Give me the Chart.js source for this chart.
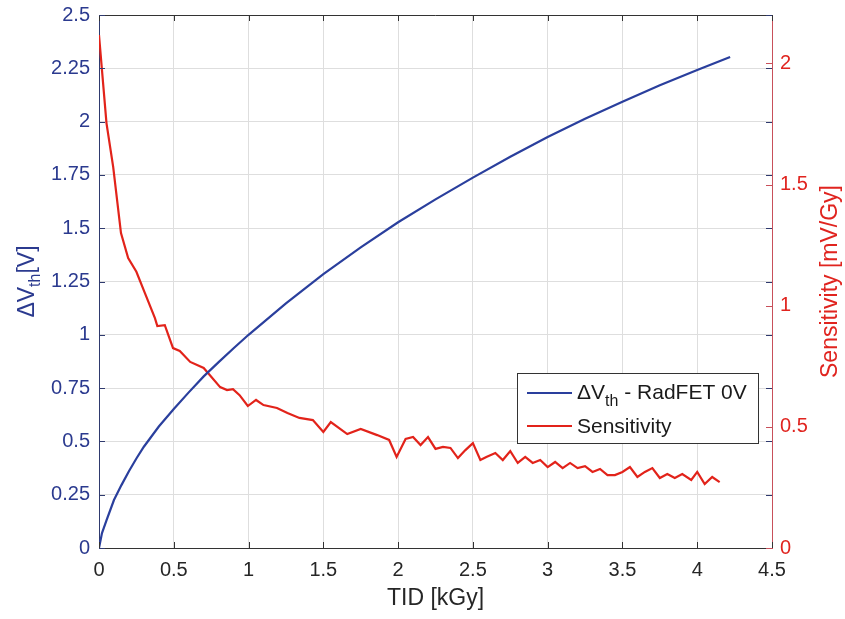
<!DOCTYPE html>
<html>
<head>
<meta charset="utf-8">
<script src="https://cdn.jsdelivr.net/npm/chart.js@4.4.1/dist/chart.umd.min.js"></script>
<style>
  html, body { margin: 0; padding: 0; background: #fff; }
  canvas { display: block; }
</style>
</head>
<body>
<canvas id="chart" width="845" height="619"></canvas>
<script>
// dose points for the threshold voltage shift [kGy]
const tidVth = [0, 0.02, 0.05, 0.1, 0.15, 0.2, 0.25, 0.3, 0.4, 0.5, 0.6, 0.7, 0.8, 0.9, 1.0,
    1.25, 1.5, 1.75, 2.0, 2.25, 2.5, 2.75, 3.0, 3.25, 3.5, 3.75, 4.0, 4.22];
// delta Vth [V]
const deltaVth = [0, 0.07, 0.13, 0.225, 0.295, 0.36, 0.42, 0.475, 0.57, 0.652, 0.73, 0.805, 0.872, 0.937, 1.0,
    1.147, 1.285, 1.41, 1.528, 1.635, 1.737, 1.835, 1.928, 2.013, 2.093, 2.17, 2.242, 2.303];

// dose points for the sensitivity [kGy]
const tidSens = [0, 0.05, 0.095, 0.147, 0.195, 0.25, 0.307, 0.374, 0.39, 0.44, 0.495, 0.54, 0.61, 0.70,
    0.81, 0.856, 0.896, 0.94, 0.995, 1.05, 1.10, 1.19, 1.26, 1.34, 1.43, 1.50, 1.55, 1.66, 1.75, 1.86,
    1.94, 1.99, 2.05, 2.10, 2.15, 2.20, 2.25, 2.30, 2.35, 2.40, 2.45, 2.50, 2.55, 2.59, 2.65, 2.70,
    2.75, 2.80, 2.85, 2.90, 2.95, 3.00, 3.05, 3.10, 3.15, 3.20, 3.25, 3.30, 3.35, 3.40, 3.45, 3.50,
    3.55, 3.60, 3.65, 3.70, 3.75, 3.80, 3.85, 3.90, 3.96, 4.00, 4.05, 4.10, 4.15];
// sensitivity [mV/Gy]
const sensitivity = [2.117, 1.754, 1.572, 1.30, 1.197, 1.14, 1.052, 0.949, 0.916, 0.92, 0.825, 0.813, 0.768, 0.743,
    0.664, 0.652, 0.656, 0.631, 0.586, 0.611, 0.59, 0.578, 0.557, 0.537, 0.528, 0.479, 0.52, 0.47, 0.491, 0.466,
    0.446, 0.376, 0.45, 0.458, 0.425, 0.458, 0.409, 0.417, 0.413, 0.371, 0.404, 0.433, 0.363, 0.376, 0.392, 0.363,
    0.40, 0.351, 0.376, 0.351, 0.363, 0.334, 0.355, 0.33, 0.351, 0.33, 0.338, 0.314, 0.326, 0.301, 0.301, 0.314,
    0.334, 0.293, 0.314, 0.33, 0.289, 0.305, 0.289, 0.305, 0.281, 0.314, 0.264, 0.293, 0.272];

// tick values
const xTickValues = [0, 0.5, 1, 1.5, 2, 2.5, 3, 3.5, 4, 4.5];
const leftTickValues = [0, 0.25, 0.5, 0.75, 1, 1.25, 1.5, 1.75, 2, 2.25, 2.5];
const rightTickValues = [0, 0.5, 1, 1.5, 2];

const FONT = "'Liberation Sans', Arial, Helvetica, sans-serif";
const BlueLine = '#2a3f9d';
const BlueText = '#2b3a8f';
const RedLine = '#e2231a';
const RedText = '#e0241f';
const AxisColor = '#333333';
const GridColor = '#dedede';
const TickLen = 6;

function toPoints(xs, ys) {
    return xs.map((x, i) => ({ x: x, y: ys[i] }));
}

function fmt(v) {
    return String(+v.toFixed(2));
}

function setTicks(values) {
    return function(scale) {
        scale.ticks = values.map(v => ({ value: v }));
    };
}

// fixed axis sizes so the plot box lands where the original has it
function fixWidth(w) {
    return function(scale) {
        scale.width = w;
        scale.paddingTop = 0;
        scale.paddingBottom = 0;
    };
}

// draws one text part and returns its width
function part(ctx, text, x, y, size) {
    ctx.font = size + 'px ' + FONT;
    ctx.fillText(text, x, y);
    return ctx.measureText(text).width;
}

function partWidth(ctx, text, size) {
    ctx.font = size + 'px ' + FONT;
    return ctx.measureText(text).width;
}

function strokeLine(ctx, x1, y1, x2, y2) {
    ctx.beginPath();
    ctx.moveTo(x1, y1);
    ctx.lineTo(x2, y2);
    ctx.stroke();
}

// box edge, inward ticks, axis titles and legend (MATLAB look)
const decorations = {
    id: 'decorations',
    afterDraw(chart) {
        const ctx = chart.ctx;
        const area = chart.chartArea;
        const sx = chart.scales.x, sy = chart.scales.y, sy2 = chart.scales.y2;
        ctx.save();
        ctx.lineWidth = 1;

        // top edge of the box
        ctx.strokeStyle = AxisColor;
        strokeLine(ctx, area.left, Math.round(area.top) + 0.5, area.right, Math.round(area.top) + 0.5);

        // x ticks, bottom and top
        sx.ticks.forEach(t => {
            const px = Math.round(sx.getPixelForValue(t.value)) + 0.5;
            strokeLine(ctx, px, area.bottom, px, area.bottom - TickLen);
            strokeLine(ctx, px, area.top, px, area.top + TickLen);
        });
        // left ticks, on both sides
        ctx.strokeStyle = '#2f3a6e';
        sy.ticks.forEach(t => {
            const py = Math.round(sy.getPixelForValue(t.value)) + 0.5;
            strokeLine(ctx, area.left, py, area.left + TickLen, py);
            strokeLine(ctx, area.right, py, area.right - TickLen, py);
        });
        // right ticks
        ctx.strokeStyle = '#c8505a';
        sy2.ticks.forEach(t => {
            const py = Math.round(sy2.getPixelForValue(t.value)) + 0.5;
            strokeLine(ctx, area.right, py, area.right - TickLen, py);
        });

        // x title
        ctx.fillStyle = '#262626';
        ctx.textAlign = 'center';
        ctx.textBaseline = 'alphabetic';
        ctx.font = '23px ' + FONT;
        ctx.fillText('TID [kGy]', (area.left + area.right) / 2, 605);

        // right title
        ctx.save();
        ctx.translate(837, (area.top + area.bottom) / 2);
        ctx.rotate(-Math.PI / 2);
        ctx.fillStyle = RedText;
        ctx.fillText('Sensitivity [mV/Gy]', 0, 0);
        ctx.restore();

        // left title with subscript
        ctx.save();
        ctx.translate(34, (area.top + area.bottom) / 2);
        ctx.rotate(-Math.PI / 2);
        ctx.fillStyle = BlueText;
        ctx.textAlign = 'left';
        const total = partWidth(ctx, '\u0394V', 23) + partWidth(ctx, 'th', 16) + partWidth(ctx, '[V]', 23);
        let cx = -total / 2;
        cx += part(ctx, '\u0394V', cx, 0, 23);
        cx += part(ctx, 'th', cx, 6, 16);
        part(ctx, '[V]', cx, 0, 23);
        ctx.restore();

        // legend
        const lx = 517.5, ly = 373.5, lw = 241, lh = 70;
        ctx.fillStyle = '#ffffff';
        ctx.fillRect(lx, ly, lw, lh);
        ctx.strokeStyle = AxisColor;
        ctx.strokeRect(lx, ly, lw, lh);
        ctx.lineWidth = 2;
        ctx.strokeStyle = BlueLine;
        strokeLine(ctx, 527, 393, 572, 393);
        ctx.strokeStyle = RedLine;
        strokeLine(ctx, 527, 426, 572, 426);
        ctx.fillStyle = '#1a1a1a';
        ctx.textAlign = 'left';
        let tx = 577;
        tx += part(ctx, '\u0394V', tx, 399, 21);
        tx += part(ctx, 'th', tx, 406, 16);
        part(ctx, ' - RadFET 0V', tx, 399, 21);
        part(ctx, 'Sensitivity', 577, 433, 21);

        ctx.restore();
    }
};

new Chart(document.getElementById('chart'), {
    type: 'line',
    data: {
        datasets: [{
            label: '\u0394Vth - RadFET 0V',
            data: toPoints(tidVth, deltaVth),
            borderColor: BlueLine,
            borderWidth: 2.2,
            pointRadius: 0,
            tension: 0,
            yAxisID: 'y'
        }, {
            label: 'Sensitivity',
            data: toPoints(tidSens, sensitivity),
            borderColor: RedLine,
            borderWidth: 2.2,
            pointRadius: 0,
            tension: 0,
            yAxisID: 'y2'
        }]
    },
    options: {
        responsive: false,
        animation: false,
        devicePixelRatio: 1,
        layout: { padding: { top: 15, left: 0, right: 0, bottom: 0 } },
        plugins: {
            legend: { display: false },
            tooltip: { enabled: false }
        },
        scales: {
            x: {
                type: 'linear',
                min: 0,
                max: 4.5,
                afterBuildTicks: setTicks(xTickValues),
                afterFit: scale => {
                    scale.height = 71;
                    scale.paddingLeft = 0;
                    scale.paddingRight = 0;
                },
                ticks: {
                    color: '#262626',
                    padding: 10,
                    maxRotation: 0,
                    font: { family: FONT, size: 20 },
                    callback: fmt
                },
                grid: { color: GridColor, drawTicks: false },
                border: { color: AxisColor }
            },
            y: {
                position: 'left',
                min: 0,
                max: 2.5,
                afterBuildTicks: setTicks(leftTickValues),
                afterFit: fixWidth(99),
                ticks: {
                    color: BlueText,
                    padding: 9,
                    font: { family: FONT, size: 20 },
                    callback: fmt
                },
                grid: { color: GridColor, drawTicks: false },
                border: { color: '#2f3a6e' }
            },
            y2: {
                position: 'right',
                min: 0,
                max: 2.2,
                afterBuildTicks: setTicks(rightTickValues),
                afterFit: fixWidth(73),
                ticks: {
                    color: RedText,
                    padding: 8,
                    font: { family: FONT, size: 20 },
                    callback: fmt
                },
                grid: { display: false, drawTicks: false },
                border: { color: '#c8505a' }
            }
        }
    },
    plugins: [decorations]
});
</script>
</body>
</html>
